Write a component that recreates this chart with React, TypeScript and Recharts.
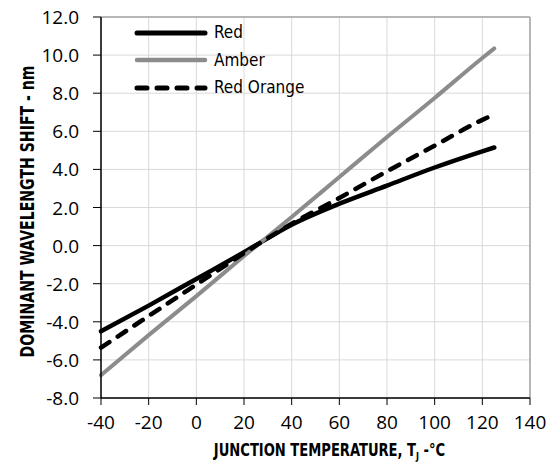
import React from "react"
import {
  LineChart,
  Line,
  XAxis,
  YAxis,
  CartesianGrid,
  Legend,
  ReferenceLine
} from "recharts"

// junction temperature, °C
const temps = [-40, -20, 0, 20, 40, 60, 80, 100, 120, 125]

// dominant wavelength shift, nm
const red = [-4.5, -3.15, -1.75, -0.35, 1.1, 2.2, 3.15, 4.1, 4.95, 5.15]
const amber = [-6.8, -4.7, -2.65, -0.55, 1.5, 3.6, 5.7, 7.75, 9.85, 10.35]
const redOrange = [-5.35, -3.7, -2.05, -0.4, 1.15, 2.5, 3.9, 5.25, 6.6, 6.88]

const xTicks = [-40, -20, 0, 20, 40, 60, 80, 100, 120, 140]
const yTicks = [-8, -6, -4, -2, 0, 2, 4, 6, 8, 10, 12]

const data = temps.map((t, i) => ({
  t,
  red: red[i],
  amber: amber[i],
  redOrange: redOrange[i]
}))

const series = [
  { key: "red", name: "Red", color: "#000000", width: 4.5, dash: undefined },
  { key: "amber", name: "Amber", color: "#8c8c8c", width: 4, dash: undefined },
  { key: "redOrange", name: "Red Orange", color: "#000000", width: 4.5, dash: "10 10" }
]

const tickFamily = "'Open Sans', sans-serif"
const titleFont = "'Liberation Sans Narrow', 'DejaVu Sans Condensed', sans-serif"

function XTick(props: any) {
  const { x, y, payload } = props
  return (
    <text x={x} y={y + 13} textAnchor="middle" fontFamily={tickFamily} fontSize={19} fill="#000">
      {payload.value}
    </text>
  )
}

function YTick(props: any) {
  const { x, y, payload } = props
  return (
    <text x={x} y={y + 7} textAnchor="end" fontFamily={tickFamily} fontSize={19} fill="#000">
      {Number(payload.value).toFixed(1)}
    </text>
  )
}

function XTitle(props: any) {
  const vb = props.viewBox || {}
  const cx = vb.x + vb.width / 2 + 14
  const base = vb.y + 58
  return (
    <text
      x={0}
      y={0}
      transform={`translate(${cx}, ${base}) scale(0.81, 1)`}
      textAnchor="middle"
      fontFamily={titleFont}
      fontWeight="bold"
      fontSize={18}
      fill="#000"
    >
      JUNCTION TEMPERATURE, T
      <tspan dy={4} fontSize={11}>J</tspan>
      <tspan dy={-4}> -°C</tspan>
    </text>
  )
}

function YTitle(props: any) {
  const vb = props.viewBox || {}
  const cx = 34
  const cy = vb.y + vb.height / 2 + 4
  return (
    <text
      x={cx}
      y={cy}
      transform={`rotate(-90, ${cx}, ${cy})`}
      textAnchor="middle"
      fontFamily={titleFont}
      fontWeight="bold"
      fontSize={19}
      fill="#000"
      textLength={292}
      lengthAdjust="spacingAndGlyphs"
    >
      DOMINANT WAVELENGTH SHIFT - nm
    </text>
  )
}

function LegendBox() {
  return (
    <div style={{ width: 220, fontFamily: titleFont, fontSize: 17, lineHeight: "27.5px" }}>
      {series.map((s) => (
        <div key={s.key} style={{ display: "flex", alignItems: "center", whiteSpace: "nowrap" }}>
          <svg width={80} height={12} style={{ flexShrink: 0 }}>
            <line
              x1={3}
              y1={6}
              x2={71}
              y2={6}
              stroke={s.color}
              strokeWidth={s.width + 0.5}
              strokeDasharray={s.dash}
              strokeLinecap="round"
            />
          </svg>
          <span>{s.name}</span>
        </div>
      ))}
    </div>
  )
}

export default function App() {
  return (
    <div style={{ position: "absolute", left: 0, top: 0, background: "#fff" }}>
      <LineChart
        width={560}
        height={469}
        data={data}
        margin={{ top: 17, right: 30, left: 0, bottom: 0 }}
      >
        <CartesianGrid stroke="#d9d9d9" strokeWidth={1} />
        <XAxis
          dataKey="t"
          type="number"
          domain={[-40, 140]}
          ticks={xTicks}
          height={71}
          tick={XTick}
          tickSize={7}
          tickMargin={11}
          axisLine={{ stroke: "#000", strokeWidth: 1.5 }}
          tickLine={{ stroke: "#000" }}
          label={{ content: XTitle }}
        />
        <YAxis
          type="number"
          domain={[-8, 12]}
          ticks={yTicks}
          width={101}
          tick={YTick}
          tickSize={8}
          tickMargin={14}
          axisLine={{ stroke: "#000", strokeWidth: 1.5 }}
          tickLine={{ stroke: "#000" }}
          label={{ content: YTitle }}
        />
        <ReferenceLine y={12} stroke="#a6a6a6" strokeWidth={1.5} />
        <ReferenceLine x={140} stroke="#a6a6a6" strokeWidth={1.5} />
        <Legend
          content={LegendBox}
          wrapperStyle={{ position: "absolute", left: 134, top: 19, width: 0, height: 0, overflow: "visible" }}
        />
        {series.map((s) => (
          <Line
            key={s.key}
            dataKey={s.key}
            name={s.name}
            type="monotone"
            stroke={s.color}
            strokeWidth={s.width}
            strokeDasharray={s.dash}
            strokeLinecap="round"
            dot={false}
            activeDot={false}
            isAnimationActive={false}
          />
        ))}
      </LineChart>
    </div>
  )
}
